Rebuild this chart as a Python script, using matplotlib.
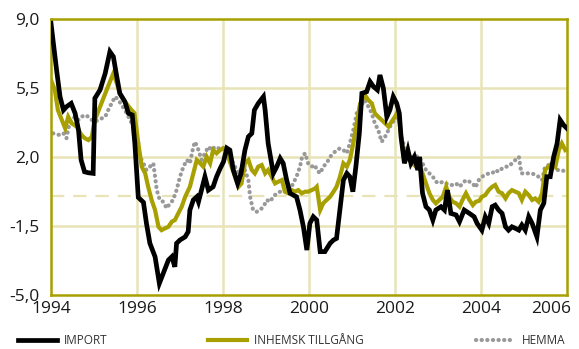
import matplotlib
matplotlib.use('Agg')
import matplotlib.pyplot as plt
import matplotlib.transforms as mtransforms
import numpy as np

# Data (year, percent)
import_t = [1994.00, 1994.13, 1994.21, 1994.29, 1994.36, 1994.47, 1994.56, 1994.64, 1994.70, 1994.78,
            1994.87, 1994.98, 1995.02, 1995.14, 1995.26, 1995.37, 1995.45, 1995.53, 1995.60, 1995.72,
            1995.80, 1995.89, 1995.95, 1996.03, 1996.15, 1996.22, 1996.30, 1996.42, 1996.52, 1996.61,
            1996.73, 1996.81, 1996.88, 1996.92, 1997.00, 1997.12, 1997.19, 1997.23, 1997.31, 1997.39,
            1997.43, 1997.50, 1997.58, 1997.66, 1997.77, 1997.85, 1997.93, 1998.01, 1998.09, 1998.16,
            1998.24, 1998.34, 1998.42, 1998.51, 1998.59, 1998.67, 1998.73, 1998.82, 1998.94, 1998.98,
            1999.05, 1999.17, 1999.25, 1999.33, 1999.40, 1999.48, 1999.56, 1999.63, 1999.71, 1999.79,
            1999.87, 1999.95, 2000.02, 2000.10, 2000.18, 2000.26, 2000.37, 2000.49, 2000.57, 2000.64,
            2000.70, 2000.80, 2000.88, 2000.95, 2001.02, 2001.09, 2001.17, 2001.23, 2001.34, 2001.42,
            2001.50, 2001.59, 2001.65, 2001.73, 2001.81, 2001.88, 2001.96, 2002.04, 2002.10, 2002.14,
            2002.22, 2002.30, 2002.37, 2002.45, 2002.53, 2002.57, 2002.64, 2002.72, 2002.80, 2002.88,
            2002.95, 2003.07, 2003.15, 2003.22, 2003.30, 2003.42, 2003.50, 2003.61, 2003.73, 2003.84,
            2003.91, 2004.02, 2004.10, 2004.18, 2004.26, 2004.33, 2004.41, 2004.49, 2004.57, 2004.64,
            2004.72, 2004.80, 2004.88, 2004.95, 2005.03, 2005.11, 2005.19, 2005.30, 2005.38, 2005.46,
            2005.53, 2005.61, 2005.69, 2005.77, 2005.84, 2005.92, 2006.00]
import_v = [8.78, 6.41, 5.06, 4.38, 4.55, 4.72, 4.22, 3.37, 1.85, 1.25,
            1.20, 1.17, 4.98, 5.40, 6.24, 7.34, 7.09, 6.07, 5.23, 4.80,
            4.22, 4.13, 2.69, -0.05, -0.30, -1.37, -2.38, -3.06, -4.41, -3.90,
            -3.23, -3.06, -3.57, -2.38, -2.21, -2.05, -1.79, -0.69, -0.18, -0.02,
            -0.27, 0.32, 1.00, 0.32, 0.49, 1.00, 1.40, 1.75, 2.45, 2.35,
            1.34, 0.66, 1.17, 2.35, 3.03, 3.20, 4.38, 4.72, 5.06, 4.38,
            2.69, 1.17, 1.51, 1.93, 1.68, 0.83, 0.16, 0.07, -0.02, -0.69,
            -1.54, -2.72, -1.37, -1.03, -1.20, -2.80, -2.80, -2.38, -2.21, -2.13,
            -1.03, 0.83, 1.17, 1.00, 0.24, 1.51, 3.20, 5.23, 5.31, 5.82,
            5.57, 5.40, 6.16, 5.48, 4.04, 4.38, 5.06, 4.72, 4.22, 3.03,
            1.68, 2.35, 1.68, 2.01, 1.34, 2.01, 0.16, -0.52, -0.69, -1.20,
            -0.69, -0.52, -0.69, 0.32, -0.86, -0.94, -1.28, -0.69, -0.86, -1.03,
            -1.37, -1.71, -1.03, -1.37, -0.52, -0.44, -0.69, -0.86, -1.54, -1.71,
            -1.54, -1.62, -1.71, -1.45, -1.71, -1.03, -1.37, -2.05, -0.69, -0.35,
            1.00, 1.00, 2.01, 2.69, 3.88, 3.62, 3.45]

inhemsk_t = [1994.00, 1994.09, 1994.16, 1994.25, 1994.33, 1994.40, 1994.48, 1994.60, 1994.71, 1994.79,
             1994.87, 1994.95, 1995.02, 1995.14, 1995.26, 1995.37, 1995.45, 1995.53, 1995.60, 1995.72,
             1995.84, 1995.94, 1996.03, 1996.11, 1996.19, 1996.26, 1996.34, 1996.42, 1996.50, 1996.57,
             1996.65, 1996.73, 1996.81, 1996.88, 1996.96, 1997.04, 1997.12, 1997.23, 1997.31, 1997.39,
             1997.47, 1997.54, 1997.62, 1997.70, 1997.77, 1997.85, 1997.93, 1998.01, 1998.05, 1998.12,
             1998.20, 1998.28, 1998.36, 1998.43, 1998.51, 1998.59, 1998.67, 1998.74, 1998.82, 1998.90,
             1998.98, 1999.05, 1999.13, 1999.21, 1999.29, 1999.37, 1999.44, 1999.52, 1999.60, 1999.67,
             1999.75, 1999.83, 1999.91, 1999.98, 2000.06, 2000.14, 2000.18, 2000.26, 2000.33, 2000.41,
             2000.49, 2000.57, 2000.64, 2000.72, 2000.80, 2000.88, 2000.95, 2001.03, 2001.11, 2001.19,
             2001.30, 2001.38, 2001.46, 2001.53, 2001.61, 2001.69, 2001.77, 2001.85, 2001.92, 2002.00,
             2002.06, 2002.10, 2002.18, 2002.26, 2002.33, 2002.41, 2002.49, 2002.57, 2002.64, 2002.72,
             2002.80, 2002.88, 2002.95, 2003.03, 2003.11, 2003.19, 2003.26, 2003.34, 2003.42, 2003.50,
             2003.57, 2003.65, 2003.73, 2003.81, 2003.88, 2003.96, 2004.02, 2004.10, 2004.18, 2004.26,
             2004.33, 2004.41, 2004.49, 2004.57, 2004.64, 2004.72, 2004.80, 2004.88, 2004.95, 2005.03,
             2005.11, 2005.19, 2005.26, 2005.34, 2005.42, 2005.49, 2005.57, 2005.65, 2005.73, 2005.81,
             2005.88, 2005.96]
inhemsk_v = [5.90, 5.40, 4.38, 3.88, 3.45, 4.04, 3.71, 3.54, 3.11, 2.95,
             2.86, 3.03, 3.88, 4.55, 5.23, 5.82, 6.24, 5.74, 5.23, 4.80,
             4.47, 4.22, 2.69, 1.51, 1.17, 0.49, -0.18, -0.69, -1.54, -1.71,
             -1.62, -1.54, -1.28, -1.20, -0.86, -0.52, -0.02, 0.49, 1.17, 1.85,
             1.68, 1.51, 2.01, 1.68, 2.35, 2.19, 2.35, 2.45, 2.40, 2.01,
             1.51, 1.00, 0.49, 0.66, 1.68, 1.85, 1.34, 1.17, 1.51, 1.59,
             1.17, 1.34, 1.00, 0.66, 0.75, 0.83, 0.24, 0.16, 0.32, 0.24,
             0.32, 0.16, 0.24, 0.24, 0.32, 0.40, 0.49, -0.69, -0.35, -0.18,
             -0.02, 0.24, 0.49, 1.00, 1.68, 1.51, 1.85, 2.69, 3.71, 4.72,
             5.14, 4.89, 4.72, 4.22, 4.04, 3.88, 3.71, 3.54, 3.79, 4.04,
             4.30, 3.88, 2.35, 2.01, 1.85, 1.68, 1.51, 1.51, 1.17, 0.66,
             0.16, -0.18, -0.35, -0.18, -0.02, 0.49, -0.02, -0.27, -0.35, -0.52,
             -0.18, 0.16, -0.18, -0.44, -0.27, -0.22, -0.02, 0.07, 0.32, 0.49,
             0.58, 0.24, 0.16, -0.10, 0.16, 0.32, 0.24, 0.16, -0.18, 0.24,
             0.07, -0.18, -0.10, -0.27, 0.16, 1.34, 1.51, 1.68, 1.51, 2.35,
             2.69, 2.35]

hemma_t = [1994.05, 1994.14, 1994.21, 1994.29, 1994.36, 1994.42, 1994.48, 1994.56, 1994.64, 1994.71,
           1994.79, 1994.87, 1994.95, 1995.02, 1995.10, 1995.18, 1995.26, 1995.33, 1995.41, 1995.49,
           1995.57, 1995.64, 1995.72, 1995.80, 1995.88, 1995.95, 1996.03, 1996.07, 1996.15, 1996.22,
           1996.30, 1996.38, 1996.42, 1996.46, 1996.53, 1996.61, 1996.69, 1996.77, 1996.84, 1996.92,
           1997.00, 1997.08, 1997.16, 1997.23, 1997.31, 1997.35, 1997.43, 1997.50, 1997.58, 1997.66,
           1997.74, 1997.81, 1997.89, 1997.97, 1998.05, 1998.12, 1998.20, 1998.28, 1998.36, 1998.43,
           1998.51, 1998.59, 1998.63, 1998.70, 1998.78, 1998.86, 1998.94, 1999.02, 1999.09, 1999.17,
           1999.25, 1999.33, 1999.40, 1999.48, 1999.56, 1999.63, 1999.71, 1999.79, 1999.84, 1999.91,
           1999.98, 2000.06, 2000.14, 2000.18, 2000.26, 2000.33, 2000.41, 2000.49, 2000.57, 2000.64,
           2000.72, 2000.80, 2000.88, 2000.95, 2001.03, 2001.11, 2001.19, 2001.30, 2001.38, 2001.46,
           2001.53, 2001.61, 2001.69, 2001.77, 2001.85, 2001.92, 2002.00, 2002.08, 2002.15, 2002.25,
           2002.35, 2002.45, 2002.57, 2002.64, 2002.72, 2002.80, 2002.88, 2002.95, 2003.03, 2003.11,
           2003.19, 2003.26, 2003.34, 2003.42, 2003.50, 2003.57, 2003.65, 2003.73, 2003.81, 2003.87,
           2003.95, 2004.02, 2004.10, 2004.18, 2004.26, 2004.33, 2004.41, 2004.49, 2004.57, 2004.64,
           2004.72, 2004.80, 2004.88, 2004.94, 2005.03, 2005.11, 2005.19, 2005.26, 2005.34, 2005.42,
           2005.49, 2005.57, 2005.65, 2005.73, 2005.81, 2005.88, 2005.96]
hemma_v = [3.20, 3.15, 3.11, 3.20, 2.95, 3.62, 3.88, 4.04, 3.88, 4.04,
           4.13, 4.04, 3.88, 3.79, 3.88, 3.96, 4.04, 4.38, 4.72, 5.06,
           4.89, 4.64, 4.38, 4.04, 3.71, 3.37, 2.69, 2.00, 1.68, 1.34,
           1.51, 1.68, 1.00, 0.32, -0.18, -0.27, -0.60, -0.35, -0.18, 0.32,
           1.00, 1.51, 1.85, 1.68, 2.52, 2.77, 2.35, 1.85, 2.19, 2.52,
           2.35, 2.52, 2.44, 2.52, 2.35, 2.10, 1.85, 1.50, 1.17, 1.42,
           1.34, 0.83, -0.02, -0.69, -0.78, -0.69, -0.52, -0.18, -0.27, -0.02,
           0.16, 0.24, 0.32, 0.24, 0.32, 0.66, 1.00, 1.51, 2.01, 2.19,
           1.68, 1.51, 1.59, 1.34, 1.17, 1.51, 1.68, 2.01, 2.19, 2.35,
           2.44, 2.35, 2.19, 2.69, 3.37, 4.22, 4.55, 4.89, 4.55, 4.22,
           3.71, 3.37, 2.77, 3.03, 3.37, 3.71, 3.88, 4.04, 3.00, 2.30,
           2.00, 2.05, 2.01, 1.68, 1.34, 1.17, 1.00, 0.75, 0.66, 0.75,
           0.66, 0.58, 0.58, 0.66, 0.49, 0.66, 0.83, 0.75, 0.66, 0.45,
           0.83, 1.00, 1.08, 1.17, 1.17, 1.34, 1.25, 1.42, 1.51, 1.51,
           1.68, 1.85, 2.01, 1.17, 1.17, 1.17, 1.17, 1.08, 1.00, 0.83,
           1.51, 1.59, 1.42, 1.34, 1.34, 1.34, 1.25]

y_ticks = [-5.0, -1.5, 2.0, 5.5, 9.0]
y_labels = ['-5,0', '-1,5', '2,0', '5,5', '9,0']
x_ticks = [1994, 1996, 1998, 2000, 2002, 2004, 2006]
x_labels = ['1994', '1996', '1998', '2000', '2002', '2004', '2006']

OLIVE = '#a8a000'
GRID = '#e8e4b8'
GRAY = '#999999'

plt.rcParams['font.family'] = ['Open Sans', 'DejaVu Sans']

fig = plt.figure(figsize=(5.79, 3.49), dpi=100)
ax = fig.add_axes([51 / 579, 54 / 349, 516 / 579, 276 / 349])

ax.set_xlim(1994, 2006)
ax.set_ylim(-5, 9)

# grid
for x in x_ticks[1:-1]:
    ax.axvline(x, color=GRID, lw=1.8, zorder=0)
for y in y_ticks[1:-1]:
    ax.axhline(y, color=GRID, lw=1.8, zorder=0)
ax.axhline(0, color=GRID, lw=1.6, dashes=(6, 4), zorder=0)

l_hem, = ax.plot(hemma_t, hemma_v, color=GRAY, lw=3.0, linestyle=(0, (0.05, 1.3)),
                 dash_capstyle='round', zorder=2)
l_inh, = ax.plot(inhemsk_t, inhemsk_v, color=OLIVE, lw=3.0, zorder=3,
                 solid_joinstyle='miter')
l_imp, = ax.plot(import_t, import_v, color='black', lw=3.4, zorder=4,
                 solid_joinstyle='miter')

for s in ax.spines.values():
    s.set_color(OLIVE)
    s.set_linewidth(1.8)

ax.set_yticks(y_ticks)
ax.set_yticklabels(y_labels)
ax.set_xticks(x_ticks)
ax.set_xticklabels(x_labels)
ax.tick_params(axis='both', length=0, labelsize=12.5, colors='#1a1a1a')
ax.tick_params(axis='y', pad=8)
ax.tick_params(axis='x', pad=4)

# last year label pulled inside the figure
lab = ax.get_xticklabels()[-1]
lab.set_transform(lab.get_transform() + mtransforms.ScaledTranslation(-0.16, 0, fig.dpi_scale_trans))

# legend along the bottom edge
leg_y = 8 / 349
for handle, text, x0 in [(l_imp, 'IMPORT', 18 / 579),
                         (l_inh, 'INHEMSK TILLGÅNG', 208 / 579),
                         (l_hem, 'HEMMA', 476 / 579)]:
    fig.legend([handle], [text], loc='center left', bbox_to_anchor=(x0, leg_y),
               frameon=False, borderpad=0, borderaxespad=0, handlelength=3.3,
               handletextpad=0.6, fontsize=8.5, labelcolor='#333333')

fig.savefig('out.png', dpi=100)
